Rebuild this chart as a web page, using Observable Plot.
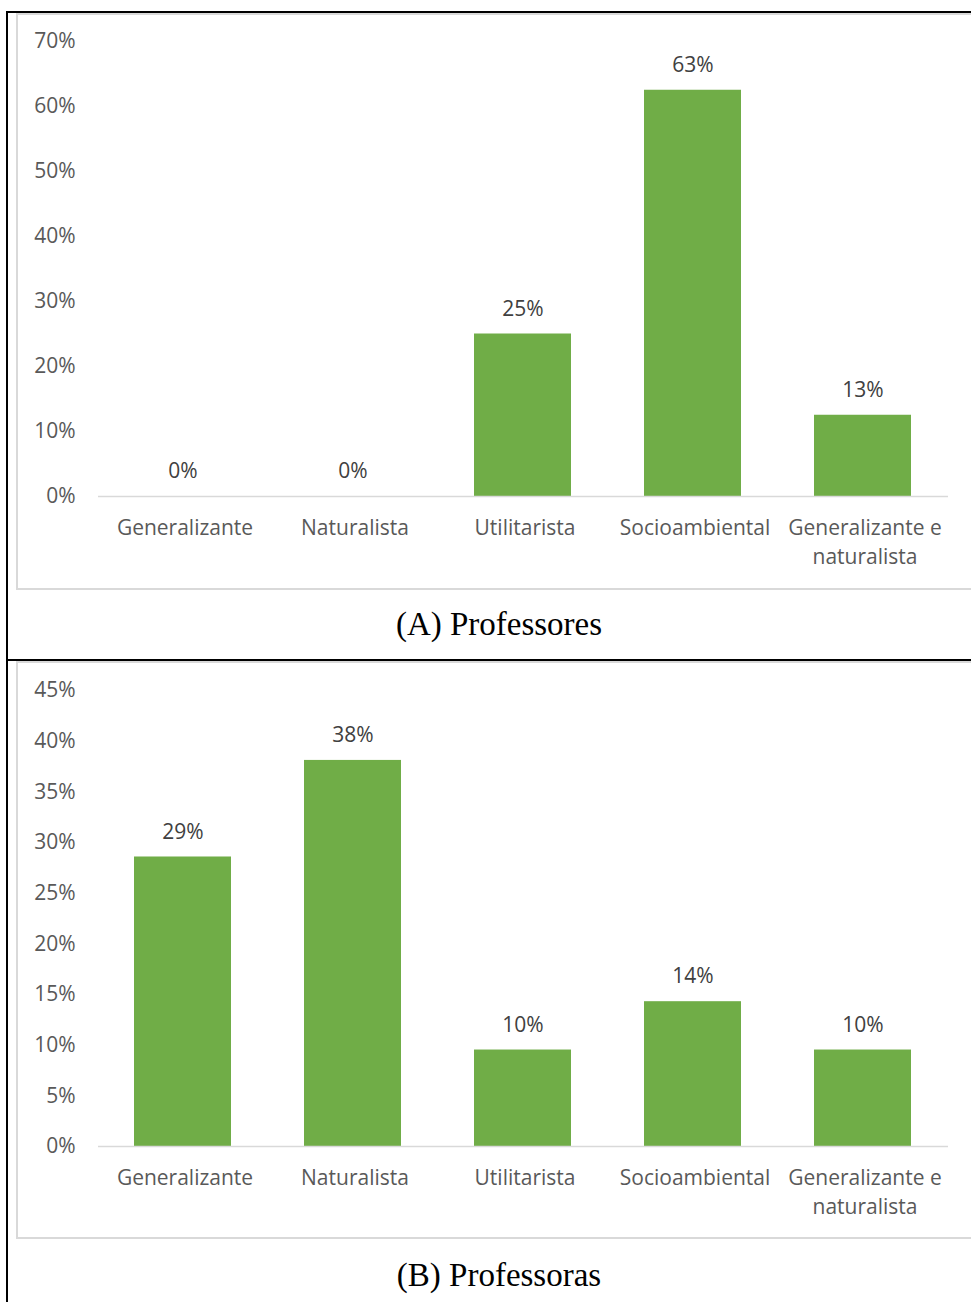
<!DOCTYPE html>
<html>
<head>
<meta charset="utf-8">
<script src="https://cdn.jsdelivr.net/npm/d3@7"></script>
<script src="https://cdn.jsdelivr.net/npm/@observablehq/plot@0.6"></script>
<style>
  html, body { margin: 0; padding: 0; background: #fff; overflow: hidden; }
  #page { position: relative; width: 971px; height: 1302px; overflow: hidden; background: #fff; }
  .rule-black { position: absolute; background: #000; }
  .panel { position: absolute; left: 16px; width: 1000px; border: 2px solid #d9d9d9; box-sizing: border-box; }
  .chart { position: absolute; left: 0; }
  .caption {
    position: absolute; left: 499px; transform: translateX(-50%);
    font-family: "Liberation Serif", "Times New Roman", serif; font-size: 33px;
    line-height: 1; color: #000; white-space: nowrap;
  }
</style>
</head>
<body>
<div id="page">
  <div class="panel" style="top:13px;height:577px;"></div>
  <div class="panel" style="top:661px;height:578px;"></div>
  <div class="rule-black" style="left:6px;top:11px;width:2px;height:1291px;"></div>
  <div class="rule-black" style="left:6px;top:11px;width:965px;height:2px;"></div>
  <div class="rule-black" style="left:6px;top:659px;width:965px;height:2px;"></div>
  <div id="chartA" class="chart" style="top:13px;"></div>
  <div id="chartB" class="chart" style="top:662px;"></div>
  <div class="caption" style="top:608px;">(A) Professores</div>
  <div class="caption" style="top:1259px;">(B) Professoras</div>
</div>
<script>
// Conceptions of environment, share of respondents
const categories = ["Generalizante", "Naturalista", "Utilitarista", "Socioambiental", "Generalizante e naturalista"];
const tickLabels = {
  "Generalizante": "Generalizante",
  "Naturalista": "Naturalista",
  "Utilitarista": "Utilitarista",
  "Socioambiental": "Socioambiental",
  "Generalizante e naturalista": "Generalizante e\nnaturalista"
};

// (A) Professores
const valuesA = [0, 0, 0.25, 0.625, 0.125];
const ticksA = [0, 0.1, 0.2, 0.3, 0.4, 0.5, 0.6, 0.7];

// (B) Professoras
const valuesB = [0.2857, 0.381, 0.0952, 0.1429, 0.0952];
const ticksB = [0, 0.05, 0.1, 0.15, 0.2, 0.25, 0.3, 0.35, 0.4, 0.45];

const barColor = "#70AD47";
const pct = d3.format(".0%");

function drawChart(values, ticks, yMax, marginBottom) {
  const data = categories.map((c, i) => ({category: c, value: values[i]}));
  return Plot.plot({
    width: 971,
    height: 575,
    marginLeft: 98,
    marginRight: 23,
    marginTop: 28,
    marginBottom,
    style: {
      fontFamily: "'Open Sans', 'Noto Sans', sans-serif",
      fontSize: "21px",
      color: "#595959",
      background: "transparent",
      overflow: "visible"
    },
    x: {domain: categories, paddingInner: 0.4286, paddingOuter: 0.2143, label: null},
    y: {domain: [0, yMax], label: null},
    marks: [
      Plot.axisY({ticks, tickFormat: pct, tickSize: 0, tickPadding: 23, label: null}),
      Plot.axisX({tickSize: 0, tickPadding: 18, dx: 2, tickFormat: d => tickLabels[d], lineHeight: 1.38, label: null}),
      Plot.barY(data, {x: "category", y: "value", fill: barColor}),
      Plot.ruleY([0], {stroke: "#d9d9d9", strokeWidth: 1.5}),
      Plot.text(data, {x: "category", y: "value", text: d => pct(d.value), dy: -25, fill: "#404040"})
    ]
  });
}

document.getElementById("chartA").append(drawChart(valuesA, ticksA, 0.7, 92));
document.getElementById("chartB").append(drawChart(valuesB, ticksB, 0.45, 91));
</script>
</body>
</html>
